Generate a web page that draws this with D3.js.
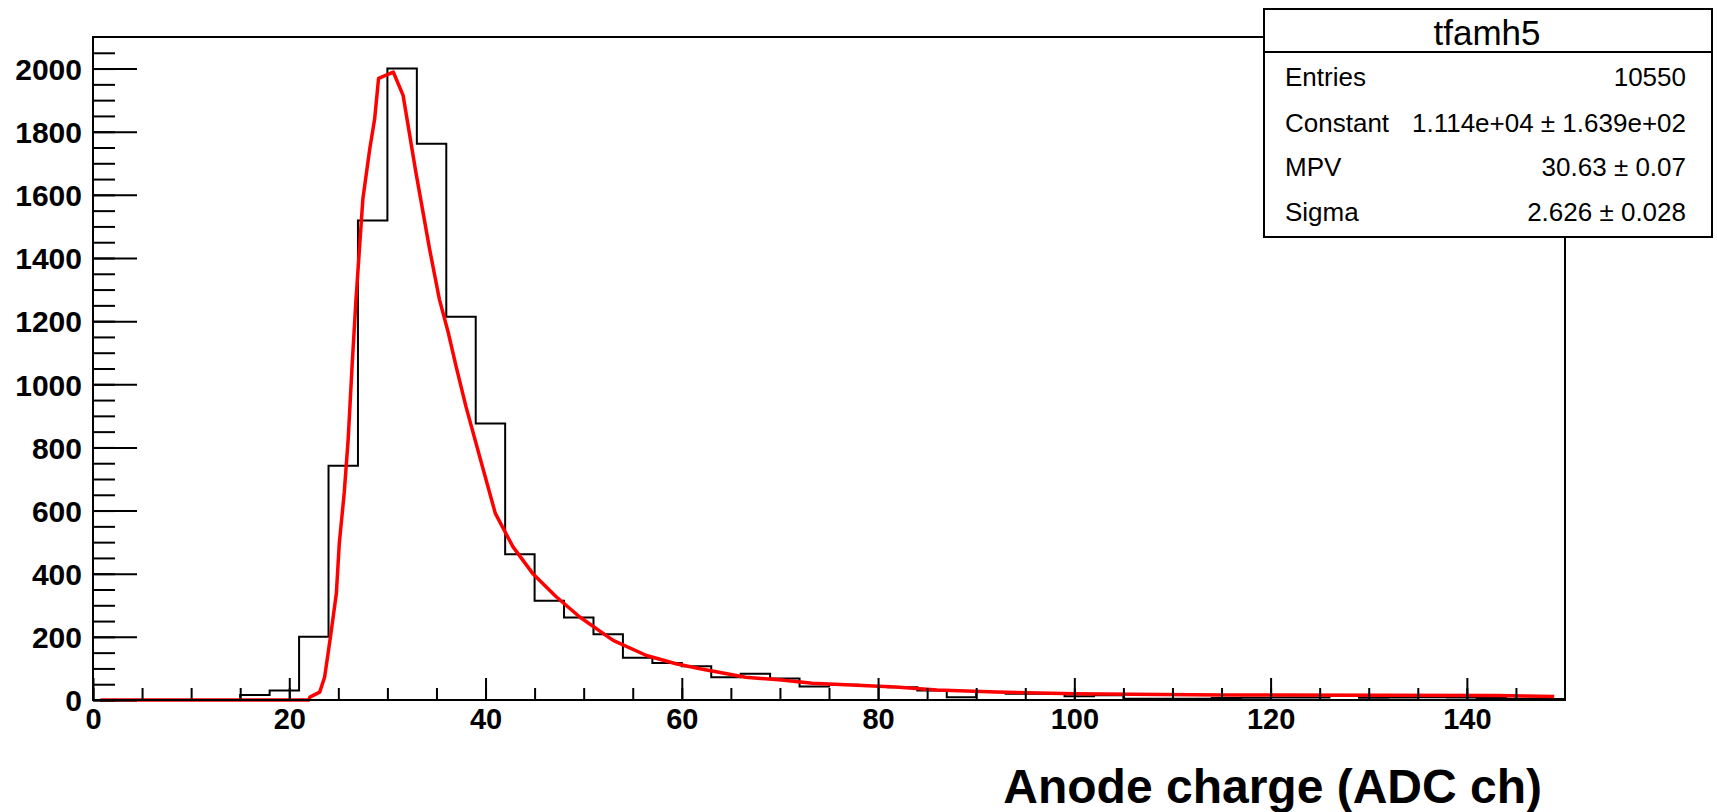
<!DOCTYPE html>
<html>
<head>
<meta charset="utf-8">
<script src="https://cdn.jsdelivr.net/npm/d3@7"></script>
<style>
  body { margin: 0; background: #fff; }
  svg { display: block; font-family: 'Liberation Sans', Arial, Helvetica, sans-serif; }
</style>
</head>
<body>
<div class="container"></div>
<script>
const WIDTH = 1717;
const HEIGHT = 812;

// histogram tfamh5: 50 bins of 3 ADC ch, 0..150
var binLow = 0;
var binWidth = 3;
var counts = [
  0, 0, 0, 0, 0, 16, 30, 200, 742, 1519,
  2000, 1762, 1214, 876, 462, 314, 261, 208, 134, 117,
  107, 72, 83, 68, 43, 48, 44, 40, 30, 9,
  25, 20, 20, 12, 15, 4, 4, 4, 6, 7,
  8, 8, 14, 7, 8, 9, 8, 6, 4, 3
];

// Landau fit (red curve)
var fitX = [0.75, 22, 22.1, 23.1, 23.6, 24.2, 24.8, 25.1, 25.6, 26.0, 26.4, 26.8, 27.5, 28.2, 28.7, 29.1,
  30.6, 31.6, 32.9, 34.3, 35.3, 36.2, 37.0, 38.0, 39.4, 41.0, 42.8, 44.8, 47.2, 49.6, 53.0, 56.4,
  59.4, 62, 66.5, 69.9, 73.3, 76.7, 81.8, 86, 92, 100, 115, 143, 148.9];
var fitY = [0, 0, 9, 25, 72, 200, 338, 497, 656, 824, 1057, 1269, 1587, 1745, 1840, 1969,
  1989, 1915, 1672, 1428, 1269, 1164, 1057, 930, 771, 591, 485, 401, 327, 263, 189, 141,
  115, 98, 72, 64, 53, 48, 41, 32, 25, 20, 16, 14, 11];

var xDomain = [0, 150];
var yDomain = [0, 2100];
var xTicks = [0, 20, 40, 60, 80, 100, 120, 140];
var yTicks = [0, 200, 400, 600, 800, 1000, 1200, 1400, 1600, 1800, 2000];
var xTitle = 'Anode charge (ADC ch)';

var statsTitle = 'tfamh5';
var statsNames = ['Entries', 'Constant', 'MPV', 'Sigma'];
var statsValues = ['10550', '1.114e+04 \u00b1 1.639e+02', '30.63 \u00b1 0.07', '2.626 \u00b1 0.028'];

var frame = { left: 93, right: 1565, top: 37, bottom: 700 };

var svg = d3.select('.container').append('svg')
  .attr('width', WIDTH)
  .attr('height', HEIGHT);

svg.append('rect')
  .attr('width', WIDTH)
  .attr('height', HEIGHT)
  .attr('fill', '#fff');

var x = d3.scaleLinear().domain(xDomain).range([frame.left, frame.right]);
var y = d3.scaleLinear().domain(yDomain).range([frame.bottom, frame.top]);

// histogram outline as steps
var steps = [[binLow, 0]];
counts.forEach(function (c, i) {
  var lo = binLow + i * binWidth;
  steps.push([lo, c], [lo + binWidth, c]);
});
steps.push([binLow + counts.length * binWidth, 0]);

var line = d3.line()
  .x(function (d) { return x(d[0]); })
  .y(function (d) { return y(d[1]); });

svg.append('path')
  .attr('d', line(steps))
  .attr('fill', 'none')
  .attr('stroke', '#000')
  .attr('stroke-width', 2);

svg.append('path')
  .attr('d', line(fitX.map(function (v, i) { return [v, fitY[i]]; })))
  .attr('fill', 'none')
  .attr('stroke', '#ff0000')
  .attr('stroke-width', 3.5)
  .attr('stroke-linejoin', 'round');

// axes, ticks pointing inward
function styleAxis(g) {
  g.select('.domain').remove();
  g.selectAll('line').attr('stroke', '#000').attr('stroke-width', 2);
  g.selectAll('text')
    .attr('fill', '#000')
    .style('font-size', '29px')
    .style('font-weight', 'bold');
}

svg.append('g')
  .attr('transform', 'translate(' + frame.left + ',0)')
  .call(d3.axisLeft(y).tickValues(d3.range(0, 2100, 50)).tickSize(-22).tickFormat(''))
  .call(styleAxis);

svg.append('g')
  .attr('transform', 'translate(' + frame.left + ',0)')
  .call(d3.axisLeft(y).tickValues(yTicks).tickSize(-44).tickPadding(11).tickFormat(d3.format('d')))
  .call(styleAxis)
  .selectAll('text')
  .attr('dy', '0.36em')
  .style('font-size', '30px');

svg.append('g')
  .attr('transform', 'translate(0,' + frame.bottom + ')')
  .call(d3.axisBottom(x).tickValues(d3.range(0, 150, 5)).tickSize(-12).tickFormat(''))
  .call(styleAxis);

svg.append('g')
  .attr('transform', 'translate(0,' + frame.bottom + ')')
  .call(d3.axisBottom(x).tickValues(xTicks).tickSize(-22).tickPadding(8).tickFormat(d3.format('d')))
  .call(styleAxis);

svg.append('rect')
  .attr('x', frame.left)
  .attr('y', frame.top)
  .attr('width', frame.right - frame.left)
  .attr('height', frame.bottom - frame.top)
  .attr('fill', 'none')
  .attr('stroke', '#000')
  .attr('stroke-width', 2);

svg.append('text')
  .attr('x', 1542)
  .attr('y', 803)
  .attr('text-anchor', 'end')
  .style('font-size', '48px')
  .style('font-weight', 'bold')
  .text(xTitle);

// stats box
var box = svg.append('g');
box.append('rect')
  .attr('x', 1264)
  .attr('y', 9)
  .attr('width', 448)
  .attr('height', 228)
  .attr('fill', '#fff')
  .attr('stroke', '#000')
  .attr('stroke-width', 2);
box.append('line')
  .attr('x1', 1264).attr('x2', 1712)
  .attr('y1', 52).attr('y2', 52)
  .attr('stroke', '#000')
  .attr('stroke-width', 2);
box.append('text')
  .attr('x', 1487)
  .attr('y', 45)
  .attr('text-anchor', 'middle')
  .style('font-size', '35px')
  .text(statsTitle);

var rowY = [86, 132, 176, 221];
box.selectAll('.name')
  .data(statsNames)
  .enter().append('text')
  .attr('class', 'name')
  .attr('x', 1285)
  .attr('y', function (d, i) { return rowY[i]; })
  .style('font-size', '26px')
  .text(function (d) { return d; });
box.selectAll('.value')
  .data(statsValues)
  .enter().append('text')
  .attr('class', 'value')
  .attr('x', 1686)
  .attr('y', function (d, i) { return rowY[i]; })
  .attr('text-anchor', 'end')
  .style('font-size', '26px')
  .text(function (d) { return d; });
</script>
</body>
</html>
